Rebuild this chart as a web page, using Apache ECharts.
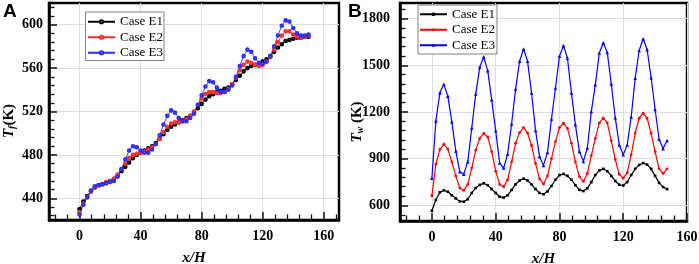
<!DOCTYPE html>
<html><head><meta charset="utf-8">
<script src="https://cdn.jsdelivr.net/npm/echarts@6/dist/echarts.min.js"></script>
<style>html,body{margin:0;padding:0;background:#fff}#c{width:699px;height:264px}</style>
</head><body><div id="c"></div>
<script>
// ---- data ----
const xPosA = [0,2.5,5,7.5,10,12.5,15,17.5,20,22.5,25,27.5,30,32.5,35,37.5,40,42.5,45,47.5,50,52.5,55,57.5,60,62.5,65,67.5,70,72.5,75,77.5,80,82.5,85,87.5,90,92.5,95,97.5,100,102.5,105,107.5,110,112.5,115,117.5,120,122.5,125,127.5,130,132.5,135,137.5,140,142.5,145,147.5,150];
const tfE1 = [430,437,442,447,450,452,453,454,456,458,461,465,469,473,477,480,482,484,486,488,491,495,499,503,506,508,510,512,514,516,519,523,527,531,534,536,538,539,541,542,545,549,553,557,560,562,563,564,566,568,571,575,579,582,585,586,587,588,588,589,589];
const tfE2 = [427,435,441,446,450,452,453,455,456,458,462,467,472,477,480,481,482,483,485,487,490,495,501,506,509,510,510,511,513,516,520,526,532,536,538,538,537,537,538,541,545,551,558,563,566,565,563,562,563,566,570,577,584,590,594,594,591,589,588,589,590];
const tfE3 = [425,434,441,447,451,452,453,454,455,456,460,467,476,484,488,487,484,482,482,485,490,498,508,516,521,519,514,511,511,514,518,526,535,543,548,547,542,538,538,540,544,552,562,571,577,575,569,565,564,566,571,580,590,599,604,603,597,592,590,590,591];

const xPosB = [0,2.5,5,7.5,10,12.5,15,17.5,20,22.5,25,27.5,30,32.5,35,37.5,40,42.5,45,47.5,50,52.5,55,57.5,60,62.5,65,67.5,70,72.5,75,77.5,80,82.5,85,87.5,90,92.5,95,97.5,100,102.5,105,107.5,110,112.5,115,117.5,120,122.5,125,127.5,130,132.5,135,137.5,140,142.5,145,147.5];
const twE1 = [566,636,684,697,688,665,645,626,624,640,680,712,732,742,730,705,680,656,650,665,700,735,760,772,760,735,705,680,672,690,725,765,795,802,790,765,730,700,692,710,750,795,825,835,820,790,757,733,728,750,795,835,860,872,862,835,790,745,718,705];
const twE2 = [662,865,960,993,962,880,790,712,697,735,840,955,1030,1062,1040,945,820,735,720,765,880,1000,1068,1100,1065,985,870,770,737,790,900,1010,1100,1128,1095,1000,880,785,755,805,920,1030,1130,1160,1130,1015,895,800,775,810,925,1065,1160,1192,1160,1063,945,835,805,835];
const twE3 = [775,1142,1323,1378,1302,1137,950,816,801,881,1097,1316,1487,1554,1466,1279,1080,872,840,930,1123,1348,1526,1605,1526,1322,1082,915,857,941,1155,1354,1558,1626,1547,1322,1119,947,883,969,1204,1376,1579,1645,1582,1380,1163,989,925,989,1168,1417,1595,1670,1600,1420,1216,1025,965,1017];

const seriesNames = ['Case E1','Case E2','Case E3'];
const xTicksA = [0,40,80,120,160];
const yTicksA = [440,480,520,560,600];
const xTicksB = [0,40,80,120,160];
const yTicksB = [600,900,1200,1500,1800];

// ---- helpers ----
function minors(lo, hi, step, majors){
  const out=[]; for(let v=Math.ceil(lo/step)*step; v<=hi; v+=step){ if(majors.indexOf(v)<0) out.push(v); } return out;
}
function pairs(xs, ys){ return xs.map((x,i)=>[x, ys[i]]); }

const SERIF = '"Liberation Serif","Times New Roman",serif';
const labelStyle = {color:'#000', fontFamily:SERIF, fontWeight:'bold', fontSize:14, formatter: v => String(v)};
const gridLine = {show:true, lineStyle:{color:'#dedede', width:1}};

function mainAxis(grid, min, max, ticks, pos, margin, extra){
  return Object.assign({
    type:'value', gridIndex:grid, min:min, max:max, position:pos,
    axisLine:{show:true, onZero:false, lineStyle:{color:'#000', width:2.5}},
    axisTick:{show:true, inside:true, length:8, customValues:ticks, lineStyle:{color:'#111', width:1.5}},
    axisLabel:Object.assign({customValues:ticks, margin:margin}, labelStyle),
    splitLine:gridLine
  }, extra||{});
}
function minorAxis(grid, min, max, vals, pos){
  return {
    type:'value', gridIndex:grid, min:min, max:max, position:pos,
    axisLine:{show:false, onZero:false}, axisLabel:{show:false}, splitLine:{show:false},
    axisTick:{show:true, inside:true, length:5.5, customValues:vals, lineStyle:{color:'#111', width:1.3}}
  };
}
const xName = {name:'x/H', nameLocation:'middle', nameGap:31,
  nameTextStyle:{color:'#000', fontFamily:SERIF, fontWeight:'bold', fontStyle:'italic', fontSize:15}};

const chart = echarts.init(document.getElementById('c'), null, {renderer:'canvas'});
const legendBase = {
  orient:'vertical', itemWidth:27, itemHeight:4, itemGap:0,
  backgroundColor:'#fff', borderColor:'#808080', borderWidth:1, borderRadius:0,
  formatter: n => n.trim(),
  textStyle:{color:'#000', fontFamily:SERIF, fontSize:13, lineHeight:15.5}
};
const sub = {fontFamily:SERIF, fontWeight:'bold', fontStyle:'italic', fill:'#000'};

chart.setOption({
  animation:false,
  backgroundColor:'#fff',
  grid:[
    {left:49, top:3, width:290, height:217, outerBoundsMode:'none', containLabel:false, show:true, borderColor:'#000', borderWidth:2.5, backgroundColor:'transparent'},
    {left:400, top:3, width:287, height:218, outerBoundsMode:'none', containLabel:false, show:true, borderColor:'#000', borderWidth:2.5, backgroundColor:'transparent'}
  ],
  xAxis:[
    mainAxis(0, -20, 170, xTicksA, 'bottom', 9, xName),
    minorAxis(0, -20, 170, minors(-20,170,8,xTicksA), 'bottom'),
    mainAxis(1, -20, 160, xTicksB, 'bottom', 9, xName),
    minorAxis(1, -20, 160, minors(-20,160,8,xTicksB), 'bottom')
  ],
  yAxis:[
    mainAxis(0, 420, 620, yTicksA, 'left', 6),
    minorAxis(0, 420, 620, minors(420,620,8,yTicksA), 'left'),
    mainAxis(1, 500, 1900, yTicksB, 'left', 10),
    minorAxis(1, 500, 1900, minors(500,1900,60,yTicksB), 'left')
  ],
  legend:[
    Object.assign({}, legendBase, {left:85.5, top:12, padding:[2,1,0,1.5], data:seriesNames}),
    Object.assign({}, legendBase, {left:418, top:5, padding:[1.5,2,1,1], data:seriesNames.map(n=>n+' ')})
  ],
  graphic:[
    {type:'text', left:3, top:2, style:{text:'A', fill:'#000', font:'bold 19px "Liberation Sans", Arial, sans-serif'}},
    {type:'text', left:348, top:2, style:{text:'B', fill:'#000', font:'bold 19px "Liberation Sans", Arial, sans-serif'}},
    {type:'text', x:9, y:121, rotation:Math.PI/2, style:{text:'{t|T}{s|f}{k|(K)}', align:'center', verticalAlign:'middle',
      rich:{t:Object.assign({fontSize:15}, sub), s:Object.assign({fontSize:10, padding:[7,0,0,0]}, sub), k:{fontFamily:SERIF, fontWeight:'bold', fontSize:15, fill:'#000'}}}},
    {type:'text', x:357, y:122, rotation:Math.PI/2, style:{text:'{t|T}{s|w}{k| (K)}', align:'center', verticalAlign:'middle',
      rich:{t:Object.assign({fontSize:15}, sub), s:Object.assign({fontSize:10, padding:[7,0,0,0]}, sub), k:{fontFamily:SERIF, fontWeight:'bold', fontSize:15, fill:'#000'}}}}
  ],
  series:[
    {name:seriesNames[0], type:'line', xAxisIndex:0, yAxisIndex:0, data:pairs(xPosA, tfE1), showAllSymbol:true, symbol:'emptyCircle', symbolSize:2.6, color:'#000', lineStyle:{width:0.9}, itemStyle:{borderWidth:0.7}},
    {name:seriesNames[1], type:'line', xAxisIndex:0, yAxisIndex:0, data:pairs(xPosA, tfE2), showAllSymbol:true, symbol:'emptyCircle', symbolSize:2.6, color:'#ff2a2a', lineStyle:{width:0.9}, itemStyle:{borderWidth:0.7}},
    {name:seriesNames[2], type:'line', xAxisIndex:0, yAxisIndex:0, data:pairs(xPosA, tfE3), showAllSymbol:true, symbol:'emptyCircle', symbolSize:2.6, color:'#2a2aff', lineStyle:{width:0.9}, itemStyle:{borderWidth:0.7}},
    {name:seriesNames[0]+' ', type:'line', xAxisIndex:2, yAxisIndex:2, data:pairs(xPosB, twE1), showAllSymbol:true, symbol:'rect', symbolSize:2.6, color:'#000', lineStyle:{width:1.2}},
    {name:seriesNames[1]+' ', type:'line', xAxisIndex:2, yAxisIndex:2, data:pairs(xPosB, twE2), showAllSymbol:true, symbol:'circle', symbolSize:2.8, color:'#ff0000', lineStyle:{width:1.2}},
    {name:seriesNames[2]+' ', type:'line', xAxisIndex:2, yAxisIndex:2, data:pairs(xPosB, twE3), showAllSymbol:true, symbol:'triangle', symbolSize:3.6, color:'#0000ff', lineStyle:{width:1.2}}
  ]
});
</script></body></html>
